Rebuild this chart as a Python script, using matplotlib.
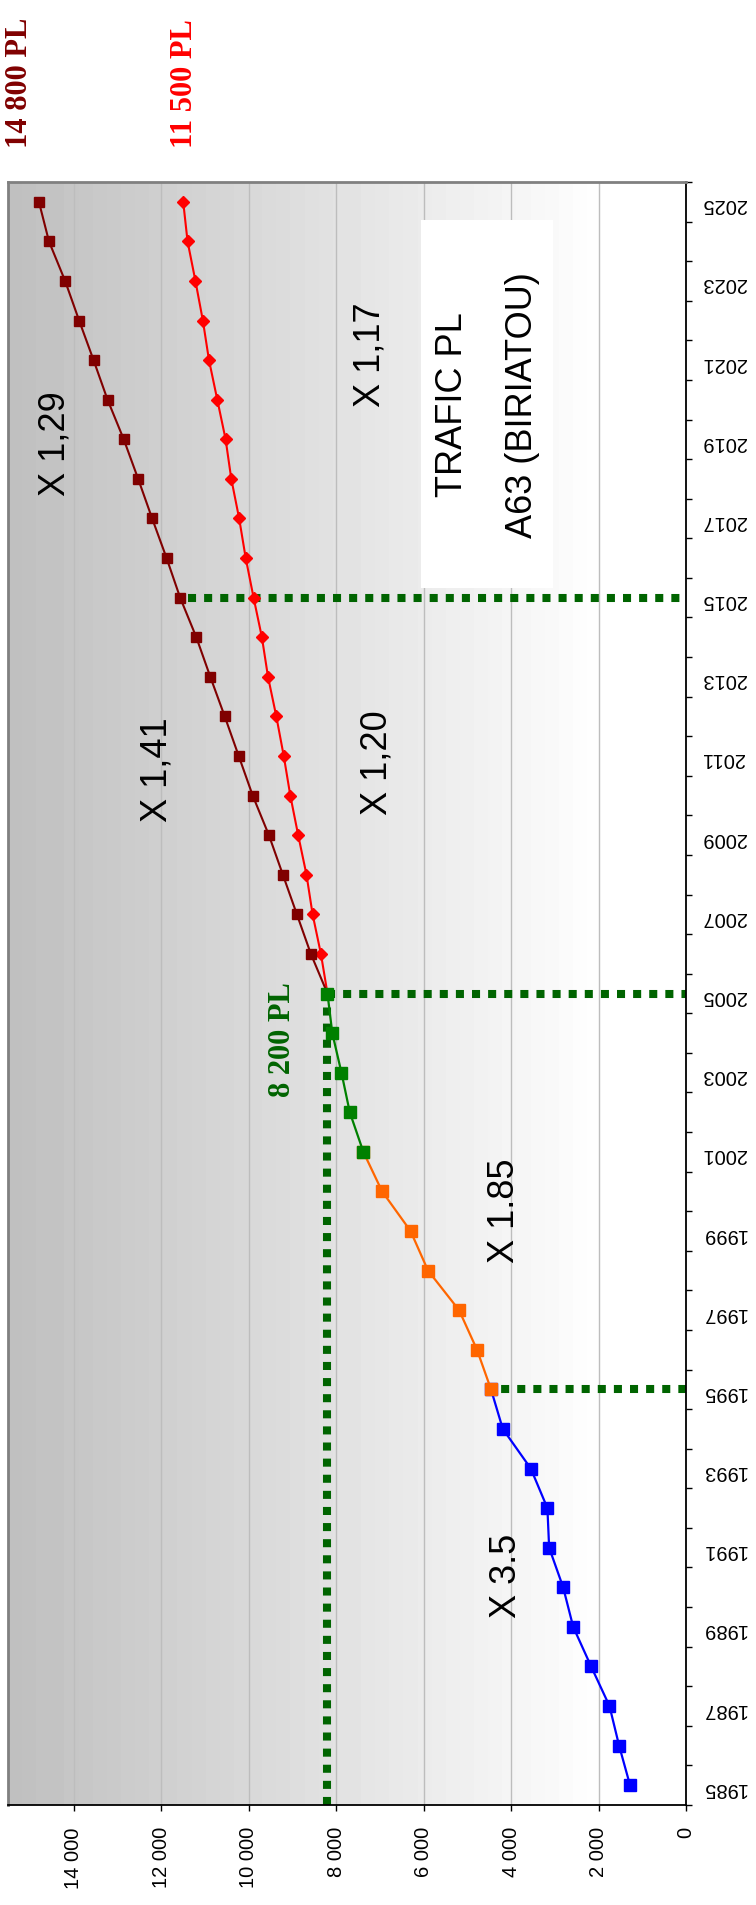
import numpy as np
import matplotlib
matplotlib.use('Agg')
import matplotlib.pyplot as plt
from matplotlib.patches import Rectangle

# traffic PL A63 (Biriatou), vehicles / day
years_blue = list(range(1985, 1996))
vals_blue = [1280, 1530, 1750, 2170, 2580, 2810, 3130, 3170, 3550, 4190, 4460]

years_orange = list(range(1995, 2002))
vals_orange = [4460, 4780, 5190, 5900, 6300, 6950, 7380]

years_green = list(range(2001, 2006))
vals_green = [7380, 7690, 7880, 8090, 8200]

years_future = list(range(2005, 2026))
vals_high = [8200, 8580, 8900, 9220, 9540, 9910, 10230, 10550, 10880, 11200, 11570,
             11880, 12210, 12530, 12860, 13230, 13550, 13880, 14200, 14570, 14800]
vals_low = [8200, 8350, 8540, 8680, 8870, 9050, 9200, 9370, 9560, 9700, 9890,
            10070, 10220, 10400, 10530, 10720, 10910, 11050, 11220, 11400, 11500]

# dotted guides: year -> starting traffic level
guide_years = [1995, 2005, 2015]
guide_start = [4600, 8200, 11400]

all_years = list(range(1985, 2026))
label_years = all_years[::2]
value_ticks = list(range(0, 14001, 2000))

W, H = 756, 1906
fig = plt.figure(figsize=(W / 100, H / 100), dpi=100)

def fx(px):
    return px / W

def fy(py):
    return 1 - py / H

ax = fig.add_axes([fx(8.3), fy(1806), (686 - 8.3) / W, (1806 - 183) / H])

# grey to white background
grad = np.minimum(np.linspace(0.75, 1.03, 48), 1.0)[None, :]
ax.imshow(grad, cmap='gray', vmin=0, vmax=1, extent=[0, 1, 0, 1], transform=ax.transAxes,
          aspect='auto', interpolation='nearest', zorder=0)

ax.set_xlim(15500, 0)
ax.set_ylim(all_years[0] - 0.5, all_years[-1] + 0.5)
ax.set_axisbelow(True)
ax.xaxis.grid(True, color='#BDBDBD', lw=1)

# guides
green_dot = dict(color='#006400', lw=5.8, ls=(0, (1, 1)), dash_capstyle='butt', zorder=2)
ax.plot([vals_green[-1], vals_green[-1]], [all_years[0] - 0.5, years_green[-1]], **green_dot)
for yr, v in zip(guide_years, guide_start):
    ax.plot([v, 0], [yr, yr], **green_dot)

ax.plot(vals_low, years_future, color='#FF0000', lw=1.5, marker='D', ms=6.5, mec='#FF0000', zorder=3)
ax.plot(vals_high, years_future, color='#800000', lw=1.5, marker='s', ms=7.8, mec='#800000', zorder=3)
ax.plot(vals_blue, years_blue, color='#0000FF', lw=1.6, marker='s', ms=8, mec='#0000FF', zorder=4)
ax.plot(vals_orange, years_orange, color='#FF6600', lw=1.6, marker='s', ms=8, mec='#FF6600', zorder=4)
ax.plot(vals_green, years_green, color='#008000', lw=1.6, marker='s', ms=8, mec='#008000', zorder=5)

for side in ['left', 'top']:
    ax.spines[side].set_color('#808080')
    ax.spines[side].set_linewidth(2)
for side in ['right', 'bottom']:
    ax.spines[side].set_color('black')
    ax.spines[side].set_linewidth(1.3)

ax.set_xticks(value_ticks)
ax.set_xticklabels([f'{v:,}'.replace(',', ' ') for v in value_ticks],
                   family='Liberation Sans', fontsize=14.5, rotation=90)
ax.tick_params(axis='x', direction='out', length=4.3, width=1, pad=11)

ax.yaxis.tick_right()
ax.set_yticks(np.arange(all_years[0] - 0.5, all_years[-1] + 1, 1))
ax.set_yticklabels([])
ax.set_yticks(label_years, minor=True)
ax.set_yticklabels([str(y) for y in label_years], minor=True,
                   family='Liberation Sans', fontsize=14.5, rotation=180)
ax.tick_params(axis='y', which='major', direction='out', length=4.3, width=1)
ax.tick_params(axis='y', which='minor', length=0, pad=11)

# end values above the chart
serif = dict(rotation=90, ha='center', va='bottom', fontsize=22, fontweight='bold',
             family='Liberation Serif')
fig.text(fx(20), fy(148), f'{vals_high[-1]:,} PL'.replace(',', ' '), color='#800000', **serif)
fig.text(fx(185), fy(148), f'{vals_low[-1]:,} PL'.replace(',', ' '), color='#FF0000', **serif)
fig.text(fx(282), fy(1097), f'{vals_green[-1]:,} PL'.replace(',', ' '), color='#006400', **serif)

ratio = dict(rotation=90, ha='center', va='center', fontsize=26, family='Liberation Sans')
fig.text(fx(55), fy(444), 'X 1,29', **ratio)
fig.text(fx(370), fy(355), 'X 1,17', **ratio)
fig.text(fx(157), fy(770), 'X 1,41', **ratio)
fig.text(fx(377), fy(763), 'X 1,20', **ratio)
fig.text(fx(504), fy(1211), 'X 1.85', **ratio)
fig.text(fx(506), fy(1576), 'X 3.5', **ratio)

# title box
ax.add_patch(Rectangle((fx(421), fy(589)), (553 - 421) / W, (589 - 221) / H,
                       transform=fig.transFigure, facecolor='white', edgecolor='none', zorder=6))
fig.text(fx(453), fy(405), 'TRAFIC PL', zorder=7, **ratio)
fig.text(fx(523), fy(405), 'A63 (BIRIATOU)', zorder=7, **ratio)

fig.savefig('out.png', dpi=100)
